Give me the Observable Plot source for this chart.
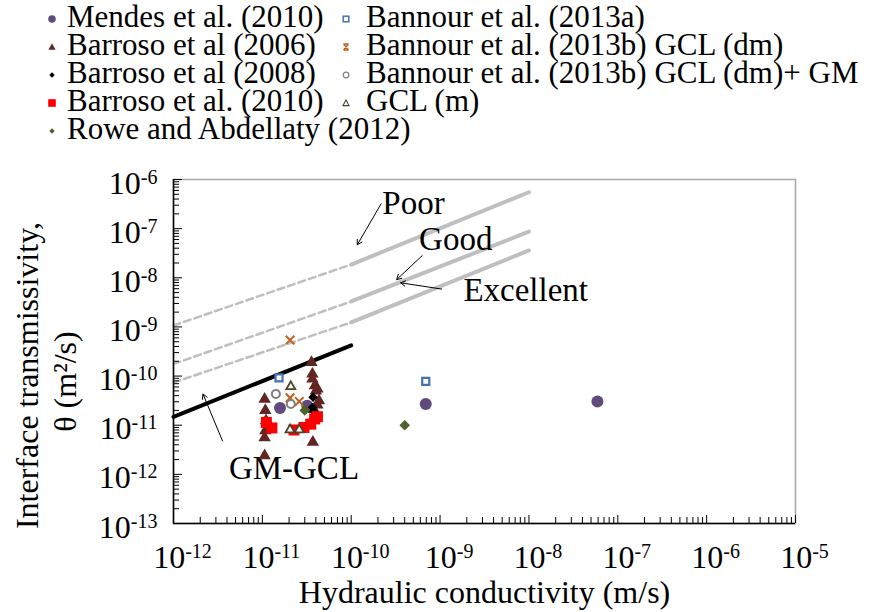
<!DOCTYPE html>
<html><head><meta charset="utf-8">
<script src="https://cdn.jsdelivr.net/npm/d3@7"></script>
<script src="https://cdn.jsdelivr.net/npm/@observablehq/plot@0.6"></script>
<style>
body{margin:0;background:#fff;font-family:"Liberation Serif","Times New Roman",serif;}
#legend{position:relative;width:873px;height:150px;overflow:hidden;}
.item{position:absolute;font-size:31px;line-height:28px;height:28px;white-space:nowrap;color:#000;}
.mk{position:absolute;}
#chart svg{display:block;}
</style></head><body>
<div id="legend"></div>
<div id="chart"></div>
<script>
// ---- data (hydraulic conductivity k [m/s], transmissivity theta [m2/s]) ----
const mendes2010 = [[1.58e-11,2.24e-11],[3.2e-11,2.5e-11],[6.9e-10,2.7e-11],[5.9e-8,3.05e-11]];
const barroso2006 = [[1.06e-11,3.4e-11],[1.08e-11,2.0e-11],[1.1e-11,1.24e-11],[1.08e-11,7.7e-12],[1.06e-11,5.6e-12],[1.06e-11,2.4e-12],
  [3.57e-11,1.9e-10],[3.66e-11,1.1e-10],[3.66e-11,8.7e-11],[3.9e-11,6.4e-11],[4.17e-11,5.5e-11],[4.0e-11,5.0e-11],
  [4.34e-11,3.15e-11],[4.17e-11,2.6e-11],[3.8e-11,2.1e-11],[3.7e-11,1.34e-11],[3.7e-11,4.5e-12]];
const barroso2008 = [[3.72e-11,3.7e-11],[3.66e-11,2.3e-11],[3.8e-11,1.9e-11]];
const barroso2010 = [[1.11e-11,1.14e-11],[1.28e-11,8.8e-12],[2.27e-11,8.0e-12],[2.94e-11,9.0e-12],[3.5e-11,1.05e-11],[3.88e-11,1.34e-11],[4.17e-11,1.49e-11]];
const rowe2012 = [[3.0e-11,2.0e-11],[4.0e-10,1.0e-11]];
const bannour2013a = [[1.54e-11,9.2e-11],[6.9e-10,7.8e-11]];
const bannour2013bGCL = [[2.05e-11,5.4e-10],[2.05e-11,3.6e-11],[2.6e-11,3.05e-11]];
const bannour2013bGM = [[1.42e-11,4.3e-11],[2.09e-11,2.7e-11]];
const gclM = [[2.09e-11,6.1e-11],[2.05e-11,8.1e-12],[2.6e-11,8.1e-12]];

// guide lines
const poorDashed = [[1e-12,1.07e-9],[1e-10,1.86e-8]];
const poorSolid = [[1e-10,1.86e-8],[1e-8,5.5e-7]];
const goodDashed = [[1e-12,1.76e-10],[1e-10,3.3e-9]];
const goodSolid = [[1e-10,3.3e-9],[1e-8,8.7e-8]];
const excellentDashed = [[1e-12,7.4e-11],[1e-10,1.24e-9]];
const excellentSolid = [[1e-10,1.24e-9],[1e-8,3.6e-8]];
const gmGclLine = [[1e-12,1.48e-11],[1e-10,4.2e-10]];

// annotations
const annoText = ["Poor","Good","Excellent","GM-GCL"];
const annoX = [2.24e-10,5.8e-10,1.83e-9,4.2e-12];
const annoY = [2.0e-7,3.7e-8,3.3e-9,8.0e-13];
// arrows [x1,y1,x2,y2]
const arrows = [[2.17e-10,3.2e-7,1.17e-10,4.7e-8],[6.3e-10,2.83e-8,3.25e-10,9.2e-9],[1.04e-9,5.9e-9,3.6e-10,7.9e-9],[3.56e-12,4.8e-12,2.15e-12,4.3e-11]];

// axes
const xTickValues = [1e-12,1e-11,1e-10,1e-9,1e-8,1e-7,1e-6,1e-5];
const xTickLabels = ["-12","-11","-10","-9","-8","-7","-6","-5"];
const yTickValues = [1e-13,1e-12,1e-11,1e-10,1e-9,1e-8,1e-7,1e-6];
const yTickLabels = ["-13","-12","-11","-10","-9","-8","-7","-6"];
const xTitle = "Hydraulic conductivity (m/s)";
const yTitle1 = "Interface transmissivity,";
const yTitle2 = "θ (m²/s)";

const legendNames = ["Mendes et al. (2010)","Barroso et al (2006)","Barroso et al (2008)","Barroso et al. (2010)","Rowe and Abdellaty (2012)",
  "Bannour et al. (2013a)","Bannour et al. (2013b) GCL (dm)","Bannour et al. (2013b) GCL (dm)+ GM","GCL (m)"];

// ---- styles ----
const series = [
  {data: mendes2010, symbol:"circle", r:6, fill:"#604a7b", stroke:"none", sw:0},
  {data: barroso2006, symbol:"triangle", r:4.6, fill:"#632523", stroke:"none", sw:0},
  {data: barroso2008, symbol:"diamond2", r:4.3, fill:"#000000", stroke:"none", sw:0},
  {data: barroso2010, symbol:"square", r:6.2, fill:"#ff0000", stroke:"none", sw:0},
  {data: rowe2012, symbol:"diamond2", r:4.8, fill:"#4f6228", stroke:"none", sw:0},
  {data: bannour2013a, symbol:"square2", r:4.5, fill:"white", stroke:"#4272b0", sw:2.2},
  {data: bannour2013bGCL, symbol:"times", r:4, fill:"none", stroke:"#c0601a", sw:2},
  {data: bannour2013bGM, symbol:"circle", r:4, fill:"white", stroke:"#7f7f7f", sw:2},
  {data: gclM, symbol:"triangle2", r:4.3, fill:"white", stroke:"#4a452a", sw:1.8}
];

// ---- legend ----
const legendEl = document.getElementById("legend");
const rowY = [17,45,73,101,129];
const colMarkX = [52,346], colTextX = [67,366];
const markerSvg = (s) => {
  const sz = 12;
  let shape = "";
  const c = 6;
  switch (s) {
    case 0: shape = `<circle cx="${c}" cy="${c}" r="3.8" fill="#604a7b"/>`; break;
    case 1: shape = `<path d="M6,2.2 L9.6,8.8 L2.4,8.8Z" fill="#632523"/>`; break;
    case 2: shape = `<path d="M6,3.3 L8.7,6 L6,8.7 L3.3,6Z" fill="#000"/>`; break;
    case 3: shape = `<rect x="2.2" y="2.2" width="7.6" height="7.6" fill="#ff0000"/>`; break;
    case 4: shape = `<path d="M6,3.3 L8.7,6 L6,8.7 L3.3,6Z" fill="#4f6228"/>`; break;
    case 5: shape = `<rect x="3.2" y="3.2" width="5.6" height="5.6" fill="white" stroke="#4272b0" stroke-width="1.5"/>`; break;
    case 6: shape = `<path d="M3.5,3 L8.5,9 M8.5,3 L3.5,9 M3.5,3 H8.5 M3.5,9 H8.5" stroke="#c0601a" stroke-width="1.3" fill="none"/>`; break;
    case 7: shape = `<circle cx="${c}" cy="${c}" r="2.8" fill="white" stroke="#7f7f7f" stroke-width="1.2"/>`; break;
    case 8: shape = `<path d="M6,3 L9,8.6 L3,8.6Z" fill="white" stroke="#4a452a" stroke-width="1.1"/>`; break;
  }
  return `<svg width="${sz}" height="${sz}">${shape}</svg>`;
};
legendNames.forEach((name, i) => {
  const col = i < 5 ? 0 : 1, row = i < 5 ? i : i - 5;
  const mk = document.createElement("div");
  mk.className = "mk";
  mk.style.left = (colMarkX[col] - 6) + "px";
  mk.style.top = (rowY[row] - 6) + "px";
  mk.innerHTML = markerSvg(i);
  legendEl.appendChild(mk);
  const t = document.createElement("div");
  t.className = "item";
  t.style.left = colTextX[col] + "px";
  t.style.top = (rowY[row] - 14) + "px";
  t.textContent = name;
  legendEl.appendChild(t);
});

// ---- chart ----
const W = 873, H = 462, mL = 173, mR = 78, mT = 29, mB = 89;
const plotW = W - mL - mR, plotH = H - mT - mB;
const minor = (lo, hi) => { const a = []; for (let e = lo; e < hi; e++) for (let m = 2; m <= 9; m++) a.push(m * Math.pow(10, e)); return a; };
const xMinor = minor(-12, -5), yMinor = minor(-13, -6);

const lineOpts = (extra) => Object.assign({x: d => d[0], y: d => d[1]}, extra);
const dashed = {stroke: "#bfbfbf", strokeWidth: 2.5, strokeDasharray: "7,4"};
const solid = {stroke: "#bfbfbf", strokeWidth: 4};

const marks = [
  Plot.frame({stroke: "#a6a6a6", strokeWidth: 1.5}),
  Plot.line(poorDashed, lineOpts(dashed)),
  Plot.line(goodDashed, lineOpts(dashed)),
  Plot.line(excellentDashed, lineOpts(dashed)),
  Plot.line(poorSolid, lineOpts(solid)),
  Plot.line(goodSolid, lineOpts(solid)),
  Plot.line(excellentSolid, lineOpts(solid)),
  Plot.line(gmGclLine, lineOpts({stroke: "black", strokeWidth: 4})),
  Plot.arrow(arrows, {x1: d => d[0], y1: d => d[1], x2: d => d[2], y2: d => d[3], stroke: "black", strokeWidth: 1, headLength: 8}),
  Plot.text(annoText, {x: (d, i) => annoX[i], y: (d, i) => annoY[i], text: d => d, textAnchor: "start", lineAnchor: "bottom", fontSize: 33, fill: "black"}),
  ...series.map(s => Plot.dot(s.data, {x: d => d[0], y: d => d[1], symbol: s.symbol, r: s.r, fill: s.fill, stroke: s.stroke, strokeWidth: s.sw})),
  Plot.ruleX([1e-12], {stroke: "black", strokeWidth: 1.5}),
  Plot.ruleY([1e-13], {stroke: "black", strokeWidth: 1.5}),
  Plot.tickX(xMinor, {x: d => d, insetTop: plotH - 6, stroke: "black", strokeWidth: 1}),
  Plot.tickX(xTickValues, {x: d => d, insetTop: plotH - 8, stroke: "black", strokeWidth: 1}),
  Plot.tickY(yMinor, {y: d => d, insetRight: plotW - 6, stroke: "black", strokeWidth: 1}),
  Plot.tickY(yTickValues, {y: d => d, insetRight: plotW - 9, stroke: "black", strokeWidth: 1}),
  Plot.text(xTickValues, {x: d => d, frameAnchor: "bottom", text: (d, i) => "10^" + xTickLabels[i], textAnchor: "middle", lineAnchor: "bottom", dy: 44, dx: 9, fontSize: 32, fill: "black"}),
  Plot.text(yTickValues, {y: d => d, frameAnchor: "left", text: (d, i) => "10^" + yTickLabels[i], textAnchor: "end", lineAnchor: "bottom", dx: -16, dy: 14, fontSize: 32, fill: "black"}),
  Plot.text([xTitle], {frameAnchor: "bottom", text: d => d, textAnchor: "middle", lineAnchor: "bottom", dy: 79, fontSize: 32, fill: "black"}),
  Plot.text([yTitle1], {frameAnchor: "left", text: d => d, textAnchor: "middle", lineAnchor: "middle", rotate: -90, dx: -146, dy: 24, fontSize: 32, fill: "black"}),
  Plot.text([yTitle2], {frameAnchor: "left", text: d => d, textAnchor: "middle", lineAnchor: "middle", rotate: -90, dx: -108, dy: 30, fontSize: 32, fill: "black"})
];

const svg = Plot.plot({
  width: W, height: H,
  marginLeft: mL, marginRight: mR, marginTop: mT, marginBottom: mB,
  x: {type: "log", domain: [1e-12, 1e-5], axis: null},
  y: {type: "log", domain: [1e-13, 1e-6], axis: null},
  style: {fontFamily: "'Liberation Serif','Times New Roman',serif", background: "white", color: "black", overflow: "visible"},
  marks
});

// superscript exponents in tick labels
d3.select(svg).selectAll("text").each(function () {
  const t = this.textContent;
  const m = /^10\^(.+)$/.exec(t);
  if (!m) return;
  const sel = d3.select(this);
  sel.text(null);
  sel.append("tspan").text("10");
  sel.append("tspan").attr("dy", "-10").attr("font-size", "20").text(m[1]);
});

document.getElementById("chart").appendChild(svg);
</script>
</body></html>
